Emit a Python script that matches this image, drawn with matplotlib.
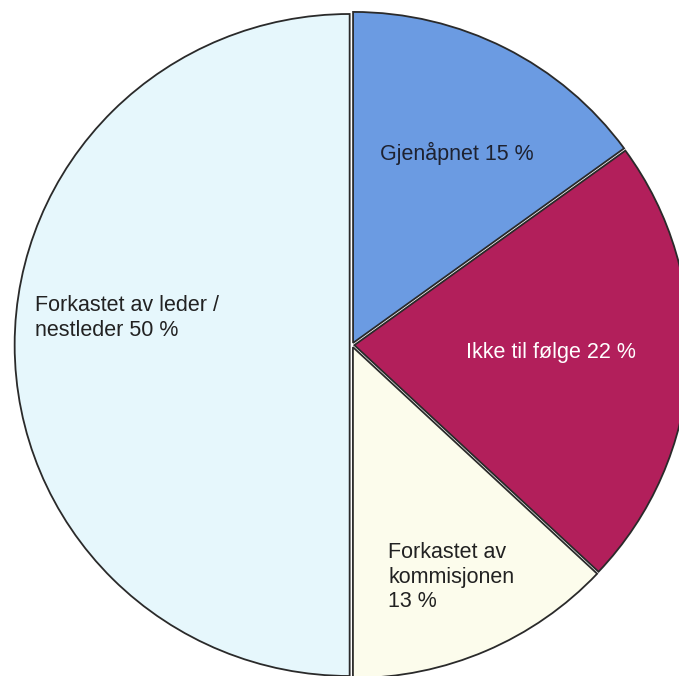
import matplotlib
matplotlib.use("Agg")
import matplotlib.pyplot as plt

labels = ["Gjenåpnet 15 %", "Ikke til følge 22 %", "Forkastet av\nkommisjonen\n13 %", "Forkastet av leder /\nnestleder 50 %"]
values = [15, 22, 13, 50]
colors = ["#6b9be2", "#b21f5b", "#fcfcec", "#e6f7fc"]
text_colors = ["#1e2230", "#ffffff", "#222222", "#222222"]

W, H = 679, 676
cx, cy, Rx, Ry = 352, 345, 335, 331

def px(x, y):
    return ((x - cx) / Rx, (cy - y) / Ry)

label_pos = [px(380, 153), px(466, 352), px(388, 577), px(35, 318)]

fig = plt.figure(figsize=(W / 100, H / 100), dpi=100)
ax = fig.add_axes([0, 0, 1, 1])
ax.pie(values, colors=colors, startangle=90, counterclock=False,
       explode=[0.007] * len(values),
       wedgeprops=dict(edgecolor="#2a2a2a", linewidth=1.3))
for lab, (x, y), tc in zip(labels, label_pos, text_colors):
    ax.text(x, y, lab, ha="left", va="center", fontsize=15.5, color=tc,
            family="Liberation Sans", linespacing=1.2)
ax.set_aspect("auto")
ax.set_xlim(-cx / Rx, (W - cx) / Rx)
ax.set_ylim(-(H - cy) / Ry, cy / Ry)
ax.axis("off")
fig.savefig("out.png", dpi=100, facecolor="white")
